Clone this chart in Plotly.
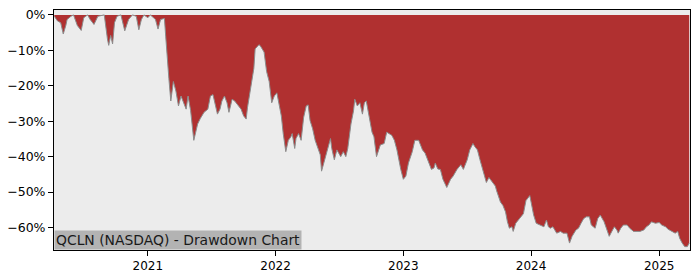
import datetime as dt
import plotly.graph_objects as go

# decimal-year dates and drawdown (%)
years = [
    2020.27, 2020.295, 2020.32, 2020.34, 2020.36, 2020.37, 2020.40, 2020.42, 2020.45, 2020.48,
    2020.50, 2020.53, 2020.55, 2020.58, 2020.61, 2020.66, 2020.685, 2020.695, 2020.71, 2020.725,
    2020.74, 2020.76, 2020.79, 2020.82, 2020.85, 2020.88, 2020.91, 2020.93, 2020.95, 2020.97,
    2021.00, 2021.02, 2021.06, 2021.08, 2021.10, 2021.13, 2021.14, 2021.155, 2021.165, 2021.18,
    2021.20, 2021.22, 2021.24, 2021.26, 2021.28, 2021.30, 2021.315, 2021.335, 2021.36, 2021.39,
    2021.41, 2021.44, 2021.47, 2021.49, 2021.51, 2021.53, 2021.545, 2021.565, 2021.58, 2021.60,
    2021.62, 2021.635, 2021.66, 2021.68, 2021.70, 2021.73, 2021.75, 2021.77, 2021.78, 2021.80,
    2021.83, 2021.84, 2021.86, 2021.87, 2021.88, 2021.91, 2021.93, 2021.95, 2021.97, 2021.99,
    2022.01, 2022.03, 2022.045, 2022.06, 2022.08, 2022.10, 2022.12, 2022.13, 2022.15, 2022.16,
    2022.18, 2022.20, 2022.22, 2022.24, 2022.255, 2022.27, 2022.29, 2022.31, 2022.33, 2022.35,
    2022.36, 2022.38, 2022.40, 2022.43, 2022.44, 2022.46, 2022.48, 2022.51, 2022.53, 2022.55,
    2022.565, 2022.59, 2022.61, 2022.62, 2022.64, 2022.66, 2022.68, 2022.695, 2022.71, 2022.73,
    2022.755, 2022.77, 2022.79, 2022.82, 2022.85, 2022.87, 2022.885, 2022.91, 2022.93, 2022.95,
    2022.98, 2023.00, 2023.02, 2023.04, 2023.07, 2023.09, 2023.12, 2023.15, 2023.17, 2023.20,
    2023.22, 2023.24, 2023.25, 2023.27, 2023.29, 2023.31, 2023.34, 2023.37, 2023.39, 2023.42,
    2023.45, 2023.47, 2023.50, 2023.52, 2023.545, 2023.56, 2023.58, 2023.60, 2023.63, 2023.65,
    2023.67, 2023.69, 2023.72, 2023.73, 2023.74, 2023.76, 2023.78, 2023.80, 2023.815, 2023.83,
    2023.85, 2023.86, 2023.88, 2023.91, 2023.94, 2023.96, 2023.99, 2024.00, 2024.02, 2024.04,
    2024.07, 2024.10, 2024.12, 2024.135, 2024.15, 2024.17, 2024.20, 2024.23, 2024.25, 2024.28,
    2024.30, 2024.32, 2024.35, 2024.37, 2024.39, 2024.41, 2024.43, 2024.455, 2024.47, 2024.50,
    2024.52, 2024.54, 2024.57, 2024.59, 2024.61, 2024.63, 2024.65, 2024.67, 2024.68, 2024.70,
    2024.72, 2024.75, 2024.77, 2024.80, 2024.825, 2024.85, 2024.88, 2024.90, 2024.92, 2024.94,
    2024.97, 2025.00, 2025.02, 2025.05, 2025.07, 2025.10, 2025.125, 2025.145, 2025.16, 2025.18,
    2025.20, 2025.22, 2025.235,
]
drawdown = [
    -0.4, -1.7, -2.2, -5.4, -3.0, -1.3, -0.4, 0.0, -3.0, -4.4,
    -0.8, 0.0, -1.3, -2.7, -0.4, 0.0, -6.8, -8.6, -5.8, -8.2,
    -2.2, -0.4, 0.0, -4.5, -1.3, 0.0, -0.4, -4.2, -1.3, 0.0,
    -0.8, 0.0, -1.3, -4.0, -1.3, -1.0, -6.0, -14.6, -18.0, -24.3,
    -18.8, -21.5, -25.7, -22.9, -24.8, -26.6, -22.9, -27.0, -35.4, -30.8,
    -29.3, -27.5, -26.6, -22.9, -22.5, -25.7, -28.0, -26.6, -24.3, -22.9,
    -24.8, -27.5, -23.8, -24.3, -25.2, -26.6, -28.5, -29.4, -26.2, -21.5,
    -15.1, -9.6, -8.7, -8.4, -8.7, -10.5, -16.0, -18.8, -24.8, -22.9,
    -22.0, -26.2, -28.5, -33.5, -38.6, -35.4, -34.4, -33.5, -37.7, -34.9,
    -33.5, -35.4, -28.9, -25.7, -25.4, -29.8, -32.1, -35.4, -37.7, -39.5,
    -44.1, -41.4, -39.0, -34.9, -37.7, -40.9, -38.1, -40.0, -38.6, -40.0,
    -37.7, -30.8, -27.1, -23.8, -25.7, -24.8, -28.0, -24.8, -24.3, -28.5,
    -33.1, -34.4, -40.0, -36.7, -36.3, -33.1, -33.5, -34.0, -35.4, -38.1,
    -43.6, -46.4, -45.5, -41.8, -38.6, -35.4, -35.4, -38.1, -39.0, -41.8,
    -43.6, -43.2, -41.8, -43.5, -43.6, -46.4, -48.7, -46.4, -45.5, -43.6,
    -42.3, -43.6, -40.9, -38.1, -36.3, -37.2, -38.1, -40.9, -44.6, -47.3,
    -45.9, -46.9, -48.3, -49.6, -50.6, -52.8, -53.8, -55.6, -58.4, -60.2,
    -59.8, -61.1, -58.8, -57.5, -56.1, -52.4, -51.0, -52.8, -56.5, -58.8,
    -59.3, -59.8, -57.9, -59.8, -60.2, -59.8, -61.6, -61.1, -61.6, -61.6,
    -64.4, -62.5, -60.7, -60.2, -58.8, -57.5, -57.0, -57.0, -59.3, -60.2,
    -57.5, -56.5, -58.4, -60.7, -62.5, -61.1, -59.8, -60.7, -61.6, -60.2,
    -59.3, -59.3, -60.2, -61.1, -61.1, -61.1, -60.7, -59.8, -59.3, -58.4,
    -58.8, -58.6, -59.3, -59.8, -60.5, -61.1, -61.6, -61.1, -63.0, -64.4,
    -65.4, -65.4, -64.4,
]
y_tick_vals = [0, -10, -20, -30, -40, -50, -60]
y_tick_text = ["0%", "\u221210%", "\u221220%", "\u221230%", "\u221240%", "\u221250%", "\u221260%"]
x_tick_vals = ["2021-01-01", "2022-01-01", "2023-01-01", "2024-01-01", "2025-01-01"]
x_tick_text = ["2021", "2022", "2023", "2024", "2025"]
label = "QCLN (NASDAQ) - Drawdown Chart"


def to_date(y):
    yr = int(y)
    start = dt.datetime(yr, 1, 1)
    days = (dt.datetime(yr + 1, 1, 1) - start).days
    return start + dt.timedelta(days=(y - yr) * days)


dates = [to_date(y) for y in years]

fig = go.Figure()
fig.add_trace(go.Scatter(x=dates, y=[0] * len(dates), mode="lines",
                         line=dict(width=0, color="rgba(0,0,0,0)"), hoverinfo="skip",
                         showlegend=False))
fig.add_trace(go.Scatter(x=dates, y=drawdown, mode="lines", fill="tonexty",
                         fillcolor="#b03030", line=dict(color="#8c8c8c", width=1),
                         showlegend=False))

fig.update_layout(
    width=700, height=280,
    margin=dict(l=53, r=10, t=7, b=28),
    paper_bgcolor="white", plot_bgcolor="#ececec",
    font=dict(family="DejaVu Sans", size=12, color="black"),
    showlegend=False,
)
fig.update_xaxes(type="date", range=["2020-04-08", "2025-03-30"],
                 tickvals=x_tick_vals, ticktext=x_tick_text,
                 showgrid=False, zeroline=False, showline=True, linecolor="black",
                 linewidth=1, mirror=True, ticks="outside", ticklen=5,
                 tickcolor="black", tickfont=dict(size=12))
fig.update_yaxes(range=[-66.35, 1.38], tickvals=y_tick_vals, ticktext=y_tick_text,
                 showgrid=False, zeroline=False, showline=True, linecolor="black",
                 linewidth=1, mirror=True, ticks="outside", ticklen=5,
                 tickcolor="black", tickfont=dict(size=12.5))
fig.add_annotation(text=label, xref="paper", yref="paper", x=0, y=0,
                   xanchor="left", yanchor="bottom", showarrow=False,
                   bgcolor="#b3b3b3", borderpad=1, font=dict(size=13.9, color="#1a1a1a"))

fig.write_html("out.html")
